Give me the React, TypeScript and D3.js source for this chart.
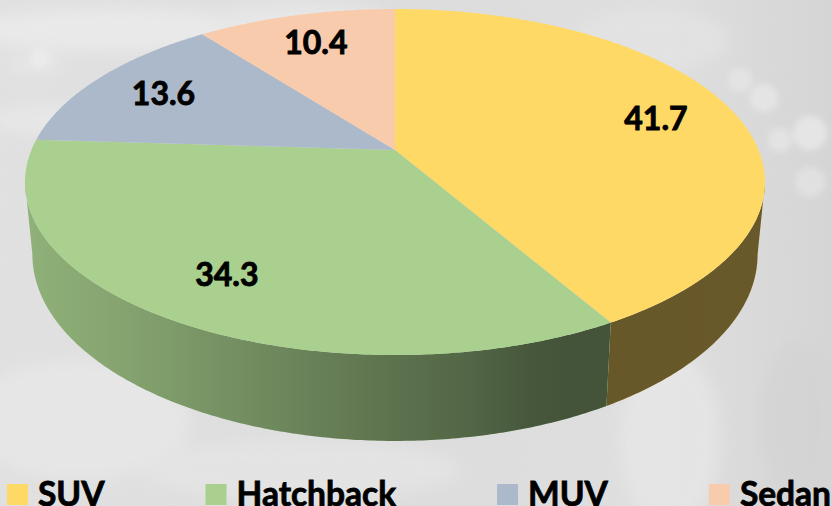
import React, { useMemo } from "react";
import * as d3 from "d3";

// ---- data ----
const categories = ["SUV", "Hatchback", "MUV", "Sedan"];
const values = [41.7, 34.3, 13.6, 10.4];
const labels = ["41.7", "34.3", "13.6", "10.4"];
const colors = ["#FFD966", "#A9D08E", "#ACB9CA", "#F8CBAD"];

// ---- layout ----
const W = 832;
const H = 506;
const CX = 395; // projected pie apex
const CY = 150;
const A = 363.6; // horizontal scale
const B = 167.1; // vertical scale
const K = -0.185; // perspective factor
const DEPTH = 70;
const BOTTOM_SHRINK = 0.98;
const LABEL_R = 0.77;

function proj(theta: number, r = 1): [number, number] {
  const p = r * Math.sin(theta);
  const q = -r * Math.cos(theta);
  const s = 1 + K * q;
  return [CX + (A * p) / s, CY + (B * q) / s];
}
function projBottom(theta: number): [number, number] {
  const [x, y] = proj(theta);
  const q = -Math.cos(theta);
  return [CX + (x - CX) * BOTTOM_SHRINK, y + DEPTH / (1 + K * q)];
}
function sample(a0: number, a1: number, fn: (t: number) => [number, number]) {
  const n = Math.max(2, Math.ceil(Math.abs(a1 - a0) / 0.01));
  return d3.range(n + 1).map((i) => fn(a0 + ((a1 - a0) * i) / n));
}

export default function App() {
  const arcs = useMemo(
    () =>
      d3
        .pie<number>()
        .sort(null)
        .value((d) => d)
        .startAngle(0)
        .endAngle(2 * Math.PI)(values),
    []
  );
  const line = d3.line().curve(d3.curveLinear);

  const silhouette = Math.acos(K);
  const visLo = silhouette;
  const visHi = 2 * Math.PI - silhouette;

  const sides = arcs
    .map((a, i) => {
      const lo = Math.max(a.startAngle, visLo);
      const hi = Math.min(a.endAngle, visHi);
      if (hi <= lo) return null;
      const top = sample(lo, hi, (t) => proj(t));
      const bot = sample(hi, lo, (t) => projBottom(t));
      return { i, d: line([...top, ...bot]) + "Z" };
    })
    .filter(Boolean) as { i: number; d: string }[];

  const tops = arcs.map((a, i) => {
    const pts = sample(a.startAngle, a.endAngle, (t) => proj(t));
    return { i, d: line([[CX, CY], ...pts]) + "Z" };
  });

  const labelPos = arcs.map((a) => proj((a.startAngle + a.endAngle) / 2, LABEL_R));

  const legendFont = "bold 33.5px Lato";
  const widths = useMemo(() => {
    const c = document.createElement("canvas").getContext("2d")!;
    c.font = legendFont;
    return categories.map((t) => c.measureText(t).width);
  }, []);
  const legendX: number[] = [];
  {
    let x = 7;
    widths.forEach((w) => {
      legendX.push(x);
      x += 31 + w + 101;
    });
  }

  return (
    <svg
      width={W}
      height={H}
      style={{ position: "absolute", left: 0, top: 0, display: "block" }}
    >
      <defs>
        <linearGradient id="shade" gradientUnits="userSpaceOnUse" x1={26} x2={765} y1={0} y2={0}>
          <stop offset="0" stopColor="#000" stopOpacity={0.15} />
          <stop offset="0.14" stopColor="#000" stopOpacity={0.22} />
          <stop offset="0.37" stopColor="#000" stopOpacity={0.37} />
          <stop offset="0.51" stopColor="#000" stopOpacity={0.46} />
          <stop offset="0.6" stopColor="#000" stopOpacity={0.51} />
          <stop offset="0.68" stopColor="#000" stopOpacity={0.58} />
          <stop offset="0.74" stopColor="#000" stopOpacity={0.6} />
          <stop offset="1" stopColor="#000" stopOpacity={0.59} />
        </linearGradient>
        <filter id="blur" x="-50%" y="-50%" width="200%" height="200%">
          <feGaussianBlur stdDeviation="8" />
        </filter>
        <filter id="blur2" x="-50%" y="-50%" width="200%" height="200%">
          <feGaussianBlur stdDeviation="3" />
        </filter>
        <filter id="noise">
          <feTurbulence type="fractalNoise" baseFrequency="0.9" numOctaves="2" seed="3" />
          <feColorMatrix type="matrix" values="0 0 0 0 0.5  0 0 0 0 0.5  0 0 0 0 0.5  0 0 0 0.08 0" />
        </filter>
        <linearGradient id="bgGrad" x1="0" x2="1" y1="0" y2="0">
          <stop offset="0" stopColor="#e2e2e2" />
          <stop offset="0.5" stopColor="#dedede" />
          <stop offset="0.8" stopColor="#e0e0e0" />
          <stop offset="1" stopColor="#d6d6d6" />
        </linearGradient>
      </defs>

      {/* background */}
      <rect width={W} height={H} fill="url(#bgGrad)" />
      <g filter="url(#blur)" opacity={0.7}>
        <ellipse cx={120} cy={30} rx={150} ry={22} fill="#f0f0f0" />
        <ellipse cx={60} cy={120} rx={70} ry={16} fill="#ececec" />
        <ellipse cx={300} cy={20} rx={90} ry={18} fill="#ececec" />
        <ellipse cx={80} cy={420} rx={110} ry={60} fill="#ebebeb" />
        <ellipse cx={300} cy={470} rx={160} ry={30} fill="#e8e8e8" />
        <ellipse cx={670} cy={440} rx={50} ry={90} fill="#eaeaea" />
        <ellipse cx={800} cy={420} rx={40} ry={80} fill="#d4d4d4" />
        <ellipse cx={650} cy={40} rx={80} ry={30} fill="#e6e6e6" />
        <rect x={10} y={60} width={50} height={10} fill="#f0f0f0" />
      </g>
      <g filter="url(#blur2)" opacity={0.6}>
        <circle cx={810} cy={133} r={17} fill="#f2f2f2" />
        <circle cx={764} cy={98} r={14} fill="#efefef" />
        <circle cx={780} cy={140} r={12} fill="#ededed" />
        <circle cx={810} cy={182} r={15} fill="#eaeaea" />
        <circle cx={740} cy={80} r={12} fill="#ececec" />
        <circle cx={40} cy={58} r={10} fill="#f2f2f2" />
      </g>
      <rect width={W} height={H} filter="url(#noise)" />

      {/* sides */}
      {sides.map((s) => (
        <g key={"s" + s.i}>
          <path d={s.d} fill={colors[s.i]} />
          <path d={s.d} fill="url(#shade)" />
        </g>
      ))}

      {/* tops */}
      {tops.map((t) => (
        <path key={"t" + t.i} d={t.d} fill={colors[t.i]} />
      ))}

      {/* data labels */}
      {labelPos.map(([x, y], i) => (
        <text
          key={"l" + i}
          x={x}
          y={y}
          dy="0.36em"
          textAnchor="middle"
          fontFamily="Lato"
          fontWeight="bold"
          fontSize={32}
          fill="#000"
          stroke="#000"
          strokeWidth={0.9}
        >
          {labels[i]}
        </text>
      ))}

      {/* legend */}
      {categories.map((c, i) => (
        <g key={"g" + i}>
          <rect x={legendX[i]} y={484} width={21} height={21} fill={colors[i]} />
          <text
            x={legendX[i] + 31}
            y={506}
            fontFamily="Lato"
            fontWeight="bold"
            fontSize={33.5}
            fill="#000"
            stroke="#000"
            strokeWidth={0.8}
          >
            {c}
          </text>
        </g>
      ))}
    </svg>
  );
}
